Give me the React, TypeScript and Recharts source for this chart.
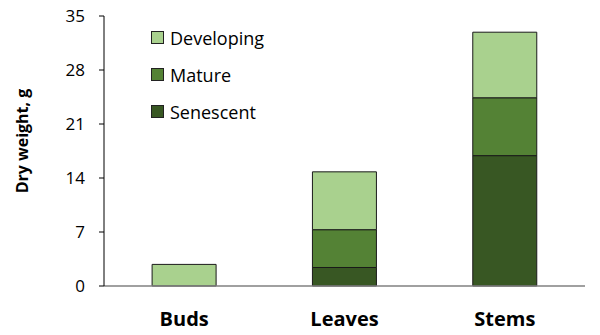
import React from "react";
import { BarChart, Bar, XAxis, YAxis } from "recharts";

const categories = ["Buds", "Leaves", "Stems"];
const senescent = [0, 2.4, 16.9];
const mature = [0, 4.9, 7.5];
const developing = [2.8, 7.5, 8.5];
const yTicks = [0, 7, 14, 21, 28, 35];

const seriesNames = ["Developing", "Mature", "Senescent"];
const colors: Record<string, string> = {
  Developing: "#A9D18E",
  Mature: "#548235",
  Senescent: "#385723",
};

const data = categories.map((c, i) => ({
  name: c,
  Senescent: senescent[i],
  Mature: mature[i],
  Developing: developing[i],
}));

const FONT = "'Open Sans', 'Liberation Sans', sans-serif";

const LegendBox = () => (
  <div style={{ position: "absolute", left: 151, top: 19, fontFamily: FONT, fontSize: 18, color: "#000" }}>
    {seriesNames.map((n) => (
      <div key={n} style={{ display: "flex", alignItems: "center", height: 37 }}>
        <div style={{ width: 11, height: 11, background: colors[n], border: "1px solid #222", marginRight: 6 }} />
        <span>{n}</span>
      </div>
    ))}
  </div>
);

const YTitle = (props: any) => {
  const vb = props.viewBox || { x: 0, y: 0, width: 0, height: 0 };
  const x = 28;
  const y = vb.y + vb.height / 2 - 10;
  return (
    <text
      x={x}
      y={y}
      transform={`rotate(-90, ${x}, ${y})`}
      textAnchor="middle"
      fontWeight="bold"
      fontSize={16}
      fill="#000"
      fontFamily={FONT}
    >
      Dry weight, g
    </text>
  );
};

export default function App() {
  return (
    <div style={{ position: "absolute", left: 0, top: 0, width: 600, height: 335, background: "#fff" }}>
      <BarChart
        width={600}
        height={335}
        data={data}
        margin={{ top: 16, right: 15, bottom: 0, left: 0 }}
        barCategoryGap="30%"
      >
        <XAxis
          dataKey="name"
          height={49}
          axisLine={{ stroke: "#808080", strokeWidth: 1.5 }}
          tickLine={false}
          tick={{ fill: "#000", fontSize: 20, fontWeight: "bold", fontFamily: FONT }}
          tickMargin={20}
        />
        <YAxis
          width={104}
          domain={[0, 35]}
          ticks={yTicks}
          axisLine={{ stroke: "#000", strokeWidth: 1 }}
          tickLine={{ stroke: "#000" }}
          tickSize={5}
          tickMargin={14}
          tick={{ fill: "#000", fontSize: 17, fontFamily: FONT }}
          label={{ content: (p: any) => <YTitle {...p} /> }}
        />
        <Bar dataKey="Senescent" stackId="a" fill={colors.Senescent} stroke="#1a1a1a" strokeWidth={1} isAnimationActive={false} />
        <Bar dataKey="Mature" stackId="a" fill={colors.Mature} stroke="#1a1a1a" strokeWidth={1} isAnimationActive={false} />
        <Bar dataKey="Developing" stackId="a" fill={colors.Developing} stroke="#1a1a1a" strokeWidth={1} isAnimationActive={false} />
      </BarChart>
      <LegendBox />
    </div>
  );
}
